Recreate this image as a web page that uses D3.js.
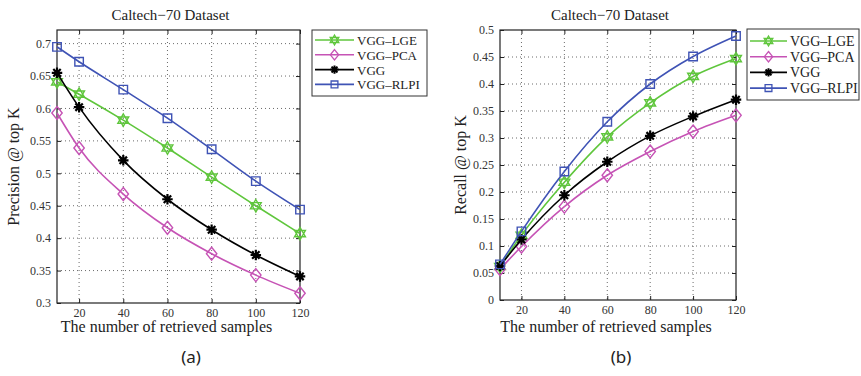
<!DOCTYPE html>
<html><head><meta charset="utf-8">
<script src="https://cdn.jsdelivr.net/npm/d3@7"></script>
<style>body{margin:0;background:#fff}svg{display:block}</style>
</head><body>
<svg id="c" width="861" height="376"></svg>
<script>
const K = [10, 20, 40, 60, 80, 100, 120];
const seriesNames = ["VGG-LGE", "VGG-PCA", "VGG", "VGG-RLPI"];
const precLGE  = [0.641, 0.622, 0.582, 0.539, 0.494, 0.450, 0.407];
const precPCA  = [0.593, 0.539, 0.468, 0.416, 0.376, 0.343, 0.315];
const precVGG  = [0.655, 0.602, 0.520, 0.460, 0.413, 0.374, 0.341];
const precRLPI = [0.695, 0.672, 0.629, 0.585, 0.537, 0.488, 0.444];
const recLGE  = [0.062, 0.120, 0.218, 0.302, 0.365, 0.414, 0.447];
const recPCA  = [0.057, 0.099, 0.173, 0.231, 0.275, 0.312, 0.342];
const recVGG  = [0.063, 0.112, 0.194, 0.256, 0.304, 0.340, 0.371];
const recRLPI = [0.066, 0.127, 0.238, 0.330, 0.400, 0.451, 0.489];
const xTicks = [20, 40, 60, 80, 100, 120];
const precTicks = [0.3, 0.35, 0.4, 0.45, 0.5, 0.55, 0.6, 0.65, 0.7];
const recTicks = [0, 0.05, 0.1, 0.15, 0.2, 0.25, 0.3, 0.35, 0.4, 0.45, 0.5];
const colors = ["#5fc63c", "#c653b5", "#000000", "#3f53b5"];
const markers = ["hexagram", "diamond", "asterisk", "square"];

const svg = d3.select("#c");
const FONT = "'Liberation Serif', 'Times New Roman', serif";

function markerPath(type, s) {
  if (type === "square") { const h = s * 0.85; return `M${-h},${-h}H${h}V${h}H${-h}Z`; }
  if (type === "diamond") { const h = s * 1.3; return `M0,${-h}L${h*0.8},0L0,${h}L${-h*0.8},0Z`; }
  if (type === "hexagram") {
    const r = s * 1.25; let p = "";
    for (let t = 0; t < 2; t++) {
      const pts = d3.range(3).map(i => { const a = -Math.PI/2 + t*Math.PI + i*2*Math.PI/3; return [r*Math.cos(a), r*Math.sin(a)]; });
      p += "M" + pts.map(q => q.join(",")).join("L") + "Z";
    }
    return p;
  }
  if (type === "asterisk") {
    const r = s * 1.05; let p = "";
    for (let i = 0; i < 4; i++) { const a = i * Math.PI / 4; p += `M${-r*Math.cos(a)},${-r*Math.sin(a)}L${r*Math.cos(a)},${r*Math.sin(a)}`; }
    return p;
  }
}

function panel(cfg) {
  const g = svg.append("g");
  const x = d3.scaleLinear().domain([10, 120]).range([cfg.x0, cfg.x1]);
  const y = d3.scaleLinear().domain(cfg.yDomain).range([cfg.y1, cfg.y0]);
  // grid
  g.append("g").selectAll("line").data(xTicks.filter(v => v < 120)).join("line")
    .attr("x1", d => x(d)).attr("x2", d => x(d)).attr("y1", cfg.y0).attr("y2", cfg.y1)
    .attr("stroke", "#444").attr("stroke-width", 0.8).attr("stroke-dasharray", "1,3");
  g.append("g").selectAll("line").data(cfg.yTicks.filter(v => y(v) > cfg.y0 + 1 && y(v) < cfg.y1 - 1)).join("line")
    .attr("x1", cfg.x0).attr("x2", cfg.x1).attr("y1", d => y(d)).attr("y2", d => y(d))
    .attr("stroke", "#444").attr("stroke-width", 0.8).attr("stroke-dasharray", "1,3");
  // axes
  const ax = d3.axisBottom(x).tickValues(xTicks).tickSize(-4).tickPadding(5).tickFormat(d3.format("d"));
  const ay = d3.axisLeft(y).tickValues(cfg.yTicks).tickSize(-4).tickPadding(6).tickFormat(d => d === 0 ? "0" : String(d));
  const gx = g.append("g").attr("transform", `translate(0,${cfg.y1})`).call(ax);
  const gy = g.append("g").attr("transform", `translate(${cfg.x0},0)`).call(ay);
  const gx2 = g.append("g").attr("transform", `translate(0,${cfg.y0})`).call(d3.axisTop(x).tickValues(xTicks).tickSize(-4).tickFormat(""));
  const gy2 = g.append("g").attr("transform", `translate(${cfg.x1},0)`).call(d3.axisRight(y).tickValues(cfg.yTicks).tickSize(-4).tickFormat(""));
  [gx, gy, gx2, gy2].forEach(a => {
    a.select(".domain").remove();
    a.selectAll("line").attr("stroke", "#222");
    a.selectAll("text").attr("font-family", FONT).attr("font-size", 12).attr("fill", "#333");
  });
  g.append("rect").attr("x", cfg.x0).attr("y", cfg.y0).attr("width", cfg.x1 - cfg.x0).attr("height", cfg.y1 - cfg.y0)
    .attr("fill", "none").attr("stroke", "#222").attr("stroke-width", 1.2);
  // series
  const line = d3.line().x((d, i) => x(K[i])).y(d => y(d)).curve(d3.curveMonotoneX);
  cfg.data.forEach((vals, si) => {
    g.append("path").attr("d", line(vals)).attr("fill", "none").attr("stroke", colors[si]).attr("stroke-width", 1.6);
    g.append("g").selectAll("path").data(vals).join("path")
      .attr("transform", (d, i) => `translate(${x(K[i])},${y(d)})`)
      .attr("d", markerPath(markers[si], 5))
      .attr("fill", "none").attr("stroke", colors[si]).attr("stroke-width", markers[si] === "asterisk" ? 2.2 : 1.4);
  });
  // title and labels
  g.append("text").attr("x", (cfg.x0 + cfg.x1) / 2 - 8).attr("y", 20).attr("text-anchor", "middle")
    .attr("font-family", FONT).attr("font-size", 15).attr("fill", "#222").text("Caltech\u221270 Dataset");
  g.append("text").attr("x", (cfg.x0 + cfg.x1) / 2 - 12).attr("y", 332).attr("text-anchor", "middle")
    .attr("font-family", FONT).attr("font-size", 16).attr("fill", "#222").text("The number of retrieved samples");
  g.append("text").attr("transform", `translate(${cfg.ylx},${(cfg.y0 + cfg.y1) / 2}) rotate(-90)`).attr("text-anchor", "middle")
    .attr("font-family", FONT).attr("font-size", 16).attr("fill", "#222").text(cfg.ylabel);
  g.append("text").attr("x", cfg.subX).attr("y", 363).attr("text-anchor", "middle")
    .attr("font-family", "'Noto Sans', 'DejaVu Sans', sans-serif").attr("font-size", 17).attr("fill", "#222").text(cfg.sub);
  // legend
  const L = cfg.legend;
  g.append("rect").attr("x", L.x).attr("y", L.y).attr("width", L.w).attr("height", L.h)
    .attr("fill", "#fff").attr("stroke", "#333").attr("stroke-width", 1);
  seriesNames.forEach((name, si) => {
    const yy = L.y + L.pad + si * L.step;
    g.append("line").attr("x1", L.x + 3).attr("x2", L.x + L.lineW).attr("y1", yy).attr("y2", yy)
      .attr("stroke", colors[si]).attr("stroke-width", 1.6);
    g.append("path").attr("transform", `translate(${L.x + 3 + (L.lineW - 3) / 2},${yy})`).attr("d", markerPath(markers[si], 4))
      .attr("fill", "none").attr("stroke", colors[si]).attr("stroke-width", markers[si] === "asterisk" ? 2 : 1.3);
    g.append("text").attr("x", L.x + L.lineW + 3).attr("y", yy + 5).attr("font-family", FONT)
      .attr("font-size", L.fs).attr("fill", "#222").text(name.replace(/-/g, "\u2013"));
  });
}

panel({ x0: 57, x1: 300, y0: 30, y1: 303, yDomain: [0.3, 0.721], yTicks: precTicks,
  data: [precLGE, precPCA, precVGG, precRLPI], ylabel: "Precision @ top K", ylx: 19, sub: "(a)", subX: 191,
  legend: { x: 312, y: 30, w: 115, h: 66, pad: 10, step: 14.8, lineW: 42, fs: 13 } });
panel({ x0: 500, x1: 736, y0: 30, y1: 300, yDomain: [0, 0.5], yTicks: recTicks,
  data: [recLGE, recPCA, recVGG, recRLPI], ylabel: "Recall @ top K", ylx: 466, sub: "(b)", subX: 621,
  legend: { x: 747, y: 29, w: 112, h: 71, pad: 12, step: 15.7, lineW: 40, fs: 14 } });
</script>
</body></html>
